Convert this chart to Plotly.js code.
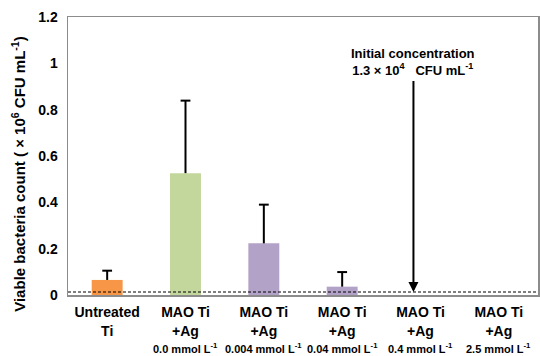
<!DOCTYPE html>
<html><head><meta charset="utf-8">
<script src="https://cdn.plot.ly/plotly-3.0.1.min.js"></script>
<style>body{margin:0;background:#fff}#c{width:540px;height:356px}</style>
</head><body><div id="c"></div>
<script>
const categories = ["Untreated<br>Ti","MAO Ti<br>+Ag","MAO Ti<br>+Ag","MAO Ti<br>+Ag","MAO Ti<br>+Ag","MAO Ti<br>+Ag"];
const concentrations = ["","0.0 mmol L<sup>-1</sup>","0.004 mmol L<sup>-1</sup>","0.04 mmol L<sup>-1</sup>","0.4 mmol L<sup>-1</sup>","2.5 mmol L<sup>-1</sup>"];
const values = [0.065, 0.526, 0.223, 0.036, 0, 0];
const errors = [0.040, 0.313, 0.167, 0.063, 0, 0];
const barColors = ["#F79646","#C3D69B","#B3A2C7","#B3A2C7","#B3A2C7","#B3A2C7"];
const initialConc = 0.013;
const arrowTop = 0.93;
const yTicks = [0,0.2,0.4,0.6,0.8,1,1.2];
const yTickText = ["0","0.2","0.4","0.6","0.8","1","1.2"];

const F = "Liberation Sans, Arial, sans-serif";
const xs = categories.map((_,i)=>i);
const hasErr = errors.map(e=>e>0);

const bars = {
  type:"bar", x:xs, y:values, width:0.395,
  marker:{color:barColors},
  error_y:{type:"data", array:errors, arrayminus:errors.map(()=>0), symmetric:false,
           color:"#000", thickness:2, width:0},
  hoverinfo:"none"
};
const caps = {
  type:"scatter", mode:"markers",
  x:xs.filter((_,i)=>hasErr[i]),
  y:values.map((v,i)=>v+errors[i]).filter((_,i)=>hasErr[i]),
  marker:{symbol:"line-ew", size:7, color:"#000", line:{color:"#000", width:2}},
  hoverinfo:"none"
};

const annotations = concentrations.map((t,i)=>({
  x:i, y:0, xref:"x", yref:"paper", yshift:-53, text:t, showarrow:false,
  font:{family:F, size:11, color:"#000", weight:"bold"}, yanchor:"middle"
}));
annotations.push({
  x:3.91, y:initialConc, xref:"x", yref:"y", ax:3.91, ay:arrowTop, axref:"x", ayref:"y",
  text:"", showarrow:true, arrowhead:2, arrowsize:1, arrowwidth:2, arrowcolor:"#000"
});
annotations.push({
  x:3.91, y:arrowTop, xref:"x", yref:"y", yshift:18, showarrow:false,
  text:"Initial concentration<br>1.3 × 10<sup>4</sup>   CFU mL<sup>-1</sup>",
  font:{family:F, size:13, color:"#000", weight:"bold"}, align:"center", yanchor:"middle"
});
annotations.push({
  x:-0.107, y:0.435, xref:"paper", yref:"paper", textangle:-90, showarrow:false,
  text:"Viable bacteria count ( × 10<sup>6</sup> CFU mL<sup>-1</sup>)",
  font:{family:F, size:15, color:"#000", weight:"bold"}, xanchor:"center", yanchor:"middle"
});

const layout = {
  width:540, height:356,
  margin:{l:68, r:2, t:17, b:61},
  paper_bgcolor:"#fff", plot_bgcolor:"#fff",
  showlegend:false,
  xaxis:{range:[-0.5,5.5], tickvals:xs, ticktext:categories, showgrid:false, zeroline:false,
         showline:true, mirror:true, linecolor:"#8c8c8c", linewidth:1.5, ticks:"",
         ticklabelstandoff:4,
         tickfont:{family:F, size:14, color:"#000", weight:"bold"}, fixedrange:true},
  yaxis:{range:[0,1.2], tickvals:yTicks, ticktext:yTickText, showgrid:false, zeroline:false,
         showline:true, mirror:true, linecolor:"#8c8c8c", linewidth:1.5, ticks:"",
         ticklabelstandoff:6,
         tickfont:{family:F, size:14, color:"#000", weight:"bold"}},
  shapes:[{type:"line", xref:"paper", x0:0, x1:1, yref:"y", y0:initialConc, y1:initialConc,
           line:{color:"#000", width:1.2, dash:"3px,2px"}}],
  annotations:annotations
};
Plotly.newPlot("c",[bars, caps],layout,{displayModeBar:false, staticPlot:true});
</script></body></html>
